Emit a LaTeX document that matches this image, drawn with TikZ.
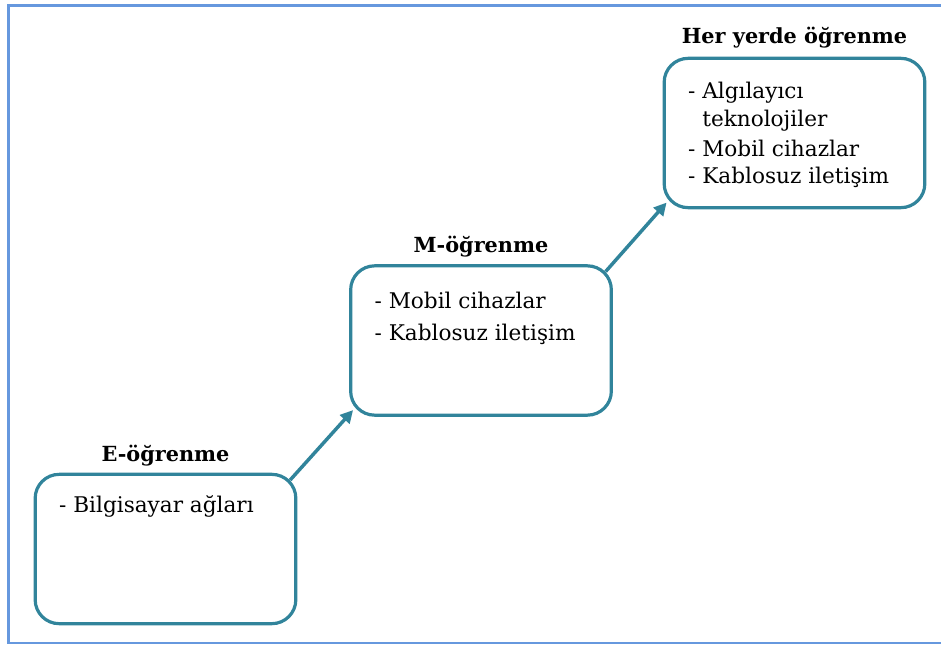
\documentclass[tikz,border=0pt]{standalone}
\usepackage{fontspec}
\setmainfont{DejaVu Serif}
\usetikzlibrary{positioning,arrows.meta}
\definecolor{stageline}{RGB}{49,132,155}
\definecolor{frameline}{RGB}{102,152,222}
\tikzset{
x=0.75pt, y=-0.75pt,
every node/.style={inner sep=0pt, font=\fontsize{16.2}{20.8}\selectfont},
stage/.style={draw=stageline, line width=2.4pt, rounded corners=18pt,
  minimum width=195.5pt, minimum height=112pt},
stagetitle/.style={font=\fontsize{15.6}{18}\selectfont\bfseries},
items/.style={anchor=north west, align=left},
flow/.style={draw=stageline, line width=2.6pt, -{Triangle[length=9.5pt,width=9.5pt]}},
}

\begin{document}
\begin{tikzpicture}
        \clip (0,0) rectangle (941,646);
        \draw[frameline, line width=2.2pt] (8.5,5.5) rectangle (950,643);

        \node[stage] (E) at (165.5,549) {};
        \node[stage] (M) at (481,340.5) {};
        \node[stage] (H) at (794.5,133) {};

        \node[stagetitle, above=5pt of E] (Et) {E-öğrenme};
        \node[stagetitle, above=5pt of M] (Mt) {M-öğrenme};
        \node[stagetitle, above=6.5pt of H] (Ht) {Her yerde öğrenme};

        \node[items] (Ei) at ([shift={(19pt,-17pt)}]E.north west) {- Bilgisayar ağları};
        \node[items] (Mi) at ([shift={(19pt,-20.5pt)}]M.north west) {- Mobil cihazlar\\[3.5pt]- Kablosuz iletişim};
        \node[items] (Hi) at ([shift={(19pt,-19pt)}]H.north west)
            {- Algılayıcı\\\phantom{- }teknolojiler\\[1.5pt]- Mobil cihazlar\\- Kablosuz iletişim};

        \draw[flow] ([shift={(-5.5pt,-5.5pt)}]E.north east) -- ([shift={(3pt,5pt)}]M.south west);
        \draw[flow] ([shift={(-5.5pt,-5.5pt)}]M.north east) -- ([shift={(3pt,5pt)}]H.south west);
    \end{tikzpicture}
\end{document}
